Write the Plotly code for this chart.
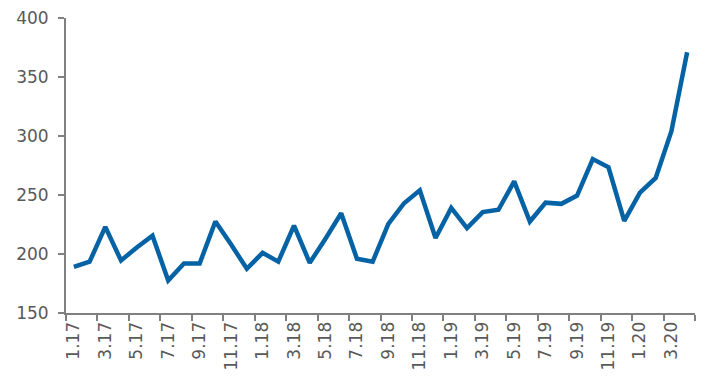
import plotly.graph_objects as go

months = ["1.17","2.17","3.17","4.17","5.17","6.17","7.17","8.17","9.17","10.17","11.17","12.17",
          "1.18","2.18","3.18","4.18","5.18","6.18","7.18","8.18","9.18","10.18","11.18","12.18",
          "1.19","2.19","3.19","4.19","5.19","6.19","7.19","8.19","9.19","10.19","11.19","12.19",
          "1.20","2.20","3.20","4.20"]
values = [189, 193.5, 223, 194.5, 205.5, 215.5, 177.5, 192, 192, 227.5, 208, 187.5,
          201, 193.5, 224, 192.5, 213, 234.5, 196, 193.5, 225.5, 243, 254, 213.5,
          239, 222, 235.5, 237.5, 261.5, 227.5, 243.5, 242.5, 249.5, 280.5, 273.5, 228,
          252, 264.5, 304, 371]
y_ticks = [150, 200, 250, 300, 350, 400]

idx = list(range(len(months)))
label_idx = idx[::2]
label_txt = months[::2]
bounds = [i - 0.5 for i in idx[::2]] + [len(months) - 0.5]

axis_col = "#808080"
text_col = "#595959"
font = dict(family="DejaVu Sans", size=17, color=text_col)

fig = go.Figure(go.Scatter(x=idx, y=values, mode="lines",
                           line=dict(color="#0563A5", width=4.5),
                           hoverinfo="skip"))
fig.update_layout(
    width=713, height=388,
    margin=dict(l=58, r=26, t=10, b=83),
    paper_bgcolor="white", plot_bgcolor="white",
    showlegend=False,
    font=font,
)
fig.update_xaxes(
    automargin=False,
    range=[-0.5, len(months) - 0.5],
    tickmode="array", tickvals=label_idx, ticktext=label_txt,
    ticks="", tickangle=-90, tickfont=font,
    ticklabeloverflow="allow",
    showgrid=False, zeroline=False,
    showline=True, linecolor=axis_col, linewidth=2,
    minor=dict(tickmode="array", tickvals=bounds, ticks="outside",
               ticklen=6, tickwidth=2, tickcolor=axis_col, showgrid=False),
)
fig.update_yaxes(
    automargin=False,
    range=[150, 400], tickmode="array", tickvals=y_ticks,
    ticks="outside", ticklen=6, tickwidth=2, tickcolor=axis_col,
    ticklabelstandoff=6, ticklabeloverflow="allow",
    tickfont=font, showgrid=False, zeroline=False,
    showline=True, linecolor=axis_col, linewidth=2,
)
fig.write_html("out.html")
